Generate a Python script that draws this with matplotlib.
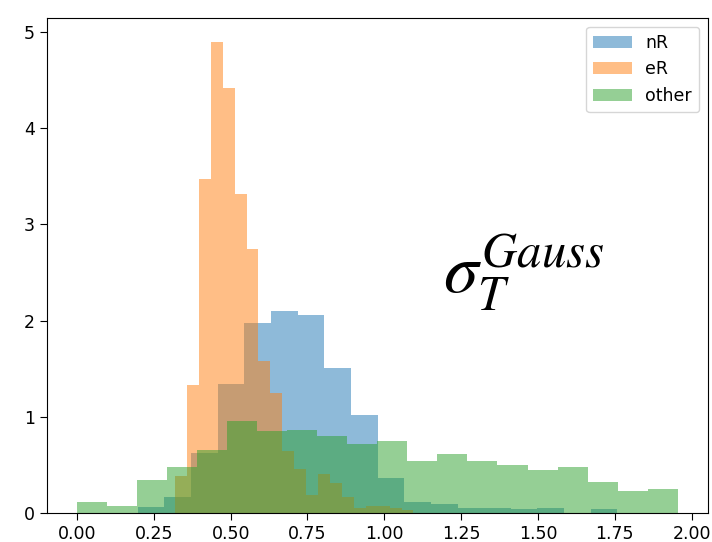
import numpy as np
import matplotlib
matplotlib.use("Agg")
import matplotlib.pyplot as plt

plt.rcParams["mathtext.fontset"] = "stix"

# bin ranges (lo, hi), heights are densities
nR_range = (0.197, 1.759)
nR = [0.06, 0.17, 0.62, 1.34, 1.98, 2.10, 2.06, 1.51, 1.02, 0.36,
      0.118, 0.09, 0.055, 0.055, 0.04, 0.055, 0.0, 0.04]

eR_range = (0.319, 1.095)
eR = [0.38, 1.33, 3.476, 4.90, 4.42, 3.32, 2.75, 1.58, 1.25, 0.64,
      0.455, 0.19, 0.41, 0.31, 0.17, 0.05, 0.07, 0.07, 0.05, 0.03]

other_range = (0.0, 1.955)
other = [0.11, 0.073, 0.344, 0.48, 0.65, 0.96, 0.85, 0.86, 0.80, 0.715,
         0.75, 0.54, 0.61, 0.54, 0.50, 0.445, 0.48, 0.326, 0.23, 0.246]

labels = ["nR", "eR", "other"]

fig = plt.figure(figsize=(7.12, 5.42), dpi=100)
ax = fig.add_axes([0.066, 0.0535, 0.928, 0.913])

for (lo, hi), h, lab in zip([nR_range, eR_range, other_range], [nR, eR, other], labels):
    edges = np.linspace(lo, hi, len(h) + 1)
    ax.hist(edges[:-1], bins=edges, weights=h, alpha=0.5, label=lab)

ax.set_xticks([0.0, 0.25, 0.5, 0.75, 1.0, 1.25, 1.5, 1.75, 2.0])
ax.set_xticklabels(["0.00", "0.25", "0.50", "0.75", "1.00", "1.25", "1.50", "1.75", "2.00"])
ax.tick_params(labelsize=12.5, length=5)
ax.legend(loc="upper right", fontsize=12.5, handlelength=2.2)
ax.text(1.19, 2.3, r"$\sigma_T^{Gauss}$", fontsize=50)

fig.savefig("out.png")
